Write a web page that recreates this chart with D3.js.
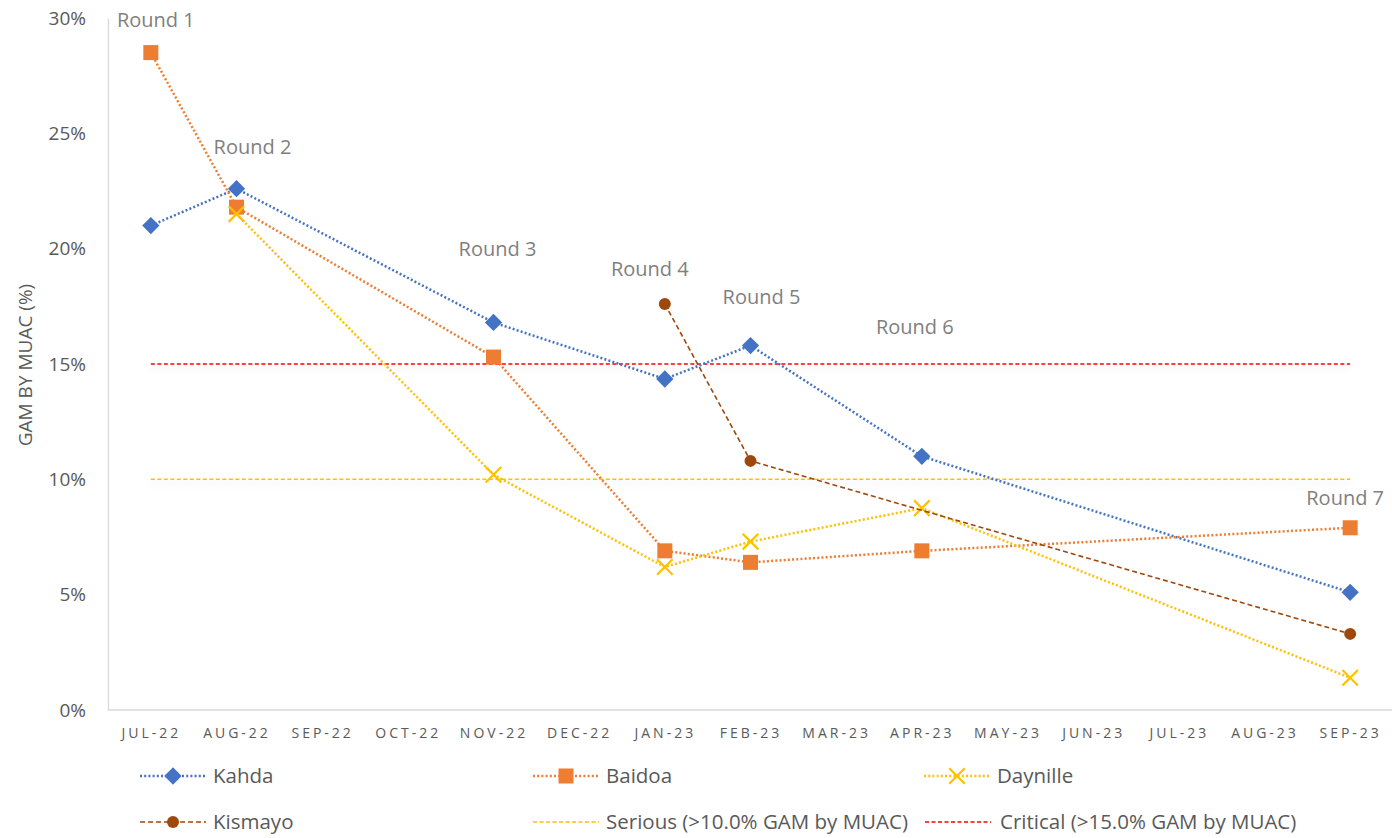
<!DOCTYPE html>
<html>
<head>
<meta charset="utf-8">
<script src="https://cdn.jsdelivr.net/npm/d3@7"></script>
<style>
  body { margin: 0; background: #fff; }
  text { font-family: "Open Sans", "Liberation Sans", sans-serif; }
</style>
</head>
<body>
<div id="chart"></div>
<script>
// Data
var months = ["JUL-22","AUG-22","SEP-22","OCT-22","NOV-22","DEC-22","JAN-23","FEB-23","MAR-23","APR-23","MAY-23","JUN-23","JUL-23","AUG-23","SEP-23"];
var kahda    = [21.0, 22.6, null, null, 16.8, null, 14.35, 15.8, null, 11.0, null, null, null, null, 5.1];
var baidoa   = [28.5, 21.8, null, null, 15.3, null, 6.9, 6.4, null, 6.9, null, null, null, null, 7.9];
var daynille = [null, 21.5, null, null, 10.2, null, 6.2, 7.3, null, 8.75, null, null, null, null, 1.4];
var kismayo  = [null, null, null, null, null, null, 17.6, 10.8, null, null, null, null, null, null, 3.3];
var serious  = 10;
var critical = 15;
var roundLabels = ["Round 1","Round 2","Round 3","Round 4","Round 5","Round 6","Round 7"];
var roundMonths = ["JUL-22","AUG-22","NOV-22","JAN-23","FEB-23","APR-23","SEP-23"];
var roundValues = [29.9, 24.4, 20.0, 19.1, 17.9, 16.6, 9.2];
var yTicks = [0, 5, 10, 15, 20, 25, 30];

var svgW = 1392, svgH = 838;
var mLeft = 108, mRight = 1393, mTop = 18, mBottom = 710;

var svg = d3.select("#chart").append("svg")
  .attr("width", svgW)
  .attr("height", svgH);

// soft shadow under the threshold lines (user space, lines have zero height)
var defs = svg.append("defs");
var f = defs.append("filter").attr("id", "shadow").attr("filterUnits", "userSpaceOnUse")
  .attr("x", 0).attr("y", 0).attr("width", svgW).attr("height", svgH);
f.append("feDropShadow").attr("dx", 0).attr("dy", 4).attr("stdDeviation", 3).attr("flood-color", "#000").attr("flood-opacity", 0.12);

var x = d3.scalePoint().domain(months).range([mLeft, mRight]).padding(0.5);
var y = d3.scaleLinear().domain([0, 30]).range([mBottom, mTop]);

// axes
var yAxis = d3.axisLeft(y).tickValues(yTicks).tickFormat(d => d + "%").tickSize(0).tickPadding(22);
var gy = svg.append("g").attr("transform", "translate(" + mLeft + ",0)").call(yAxis);
gy.select(".domain").attr("stroke", "#d9d9d9").attr("stroke-width", 1.3);
gy.selectAll("text").attr("fill", "#595959").style("font-size", "19px");

var xAxis = d3.axisBottom(x).tickSize(0).tickPadding(18);
var gx = svg.append("g").attr("transform", "translate(0," + mBottom + ")").call(xAxis);
gx.select(".domain").attr("stroke", "#d9d9d9").attr("stroke-width", 1.3).attr("d", "M" + mLeft + ",0H" + mRight);
gx.selectAll("text").attr("fill", "#595959").style("font-size", "14px").style("letter-spacing", "3px");

svg.append("text")
  .attr("transform", "rotate(-90)")
  .attr("x", -365)
  .attr("y", 32)
  .attr("text-anchor", "middle")
  .attr("fill", "#595959")
  .style("font-size", "19px")
  .text("GAM BY MUAC (%)");

// threshold lines
var x0 = x(months[0]), x1 = x(months[months.length - 1]);
svg.append("line").attr("x1", x0).attr("x2", x1).attr("y1", y(serious)).attr("y2", y(serious))
  .attr("stroke", "#FFC000").attr("stroke-width", 1.5).attr("stroke-dasharray", "4,2.5").attr("filter", "url(#shadow)");
svg.append("line").attr("x1", x0).attr("x2", x1).attr("y1", y(critical)).attr("y2", y(critical))
  .attr("stroke", "#FF0000").attr("stroke-width", 1.5).attr("stroke-dasharray", "4,2.5").attr("filter", "url(#shadow)");

var series = [
  { name: "Kahda", values: kahda, color: "#4472C4", dash: "2,2.2", width: 2.5, marker: "diamond" },
  { name: "Baidoa", values: baidoa, color: "#ED7D31", dash: "2,2.2", width: 2.5, marker: "square" },
  { name: "Daynille", values: daynille, color: "#FFC000", dash: "2,2.2", width: 2.5, marker: "x" },
  { name: "Kismayo", values: kismayo, color: "#9E480E", dash: "5,3", width: 1.6, marker: "circle" }
];

var line = d3.line().x(d => x(d.m)).y(d => y(d.v));

function drawMarker(g, type, color, cx, cy) {
  if (type === "diamond") {
    g.append("path").attr("d", d3.symbol().type(d3.symbolDiamond2).size(190)()).attr("transform", "translate(" + cx + "," + cy + ")").attr("fill", color);
  } else if (type === "square") {
    g.append("rect").attr("x", cx - 7.5).attr("y", cy - 7.5).attr("width", 15).attr("height", 15).attr("fill", color);
  } else if (type === "x") {
    g.append("path").attr("d", d3.symbol().type(d3.symbolX).size(160)()).attr("transform", "translate(" + cx + "," + cy + ")").attr("stroke", color).attr("stroke-width", 2.2).attr("fill", "none");
  } else {
    g.append("circle").attr("cx", cx).attr("cy", cy).attr("r", 6).attr("fill", color);
  }
}

series.forEach(function (s) {
  var pts = months.map((m, i) => ({ m: m, v: s.values[i] })).filter(d => d.v != null);
  var g = svg.append("g");
  g.append("path").datum(pts).attr("d", line).attr("fill", "none")
    .attr("stroke", s.color).attr("stroke-width", s.width).attr("stroke-dasharray", s.dash);
  pts.forEach(d => drawMarker(g, s.marker, s.color, x(d.m), y(d.v)));
});

// round labels (small horizontal nudges, like the hand-placed labels)
var nudge = [5, 16, 4, -15, 11, -7, -5];
roundLabels.forEach(function (t, i) {
  svg.append("text")
    .attr("x", x(roundMonths[i]) + nudge[i])
    .attr("y", y(roundValues[i]))
    .attr("dy", "0.35em")
    .attr("text-anchor", "middle")
    .attr("fill", "#7f7f7f")
    .style("font-size", "20px")
    .text(t);
});

// legend
var legend = [
  { name: "Kahda", color: "#4472C4", dash: "2,2.2", w: 2.5, marker: "diamond", lx: 140, tx: 213, ty: 776 },
  { name: "Baidoa", color: "#ED7D31", dash: "2,2.2", w: 2.5, marker: "square", lx: 533, tx: 606, ty: 776 },
  { name: "Daynille", color: "#FFC000", dash: "2,2.2", w: 2.5, marker: "x", lx: 924, tx: 997, ty: 776 },
  { name: "Kismayo", color: "#9E480E", dash: "5,3", w: 1.6, marker: "circle", lx: 140, tx: 213, ty: 822 },
  { name: "Serious (>10.0% GAM by MUAC)", color: "#FFC000", dash: "4,2.5", w: 1.5, marker: null, lx: 533, tx: 606, ty: 822 },
  { name: "Critical (>15.0% GAM by MUAC)", color: "#FF0000", dash: "4,2.5", w: 1.5, marker: null, lx: 925, tx: 1000, ty: 822 }
];
legend.forEach(function (l) {
  var g = svg.append("g");
  g.append("line").attr("x1", l.lx).attr("x2", l.lx + 66).attr("y1", l.ty).attr("y2", l.ty)
    .attr("stroke", l.color).attr("stroke-width", l.w).attr("stroke-dasharray", l.dash);
  if (l.marker) drawMarker(g, l.marker, l.color, l.lx + 33, l.ty);
  g.append("text").attr("x", l.tx).attr("y", l.ty).attr("dy", "0.35em")
    .attr("fill", "#595959").style("font-size", "20.5px").text(l.name);
});
</script>
</body>
</html>
